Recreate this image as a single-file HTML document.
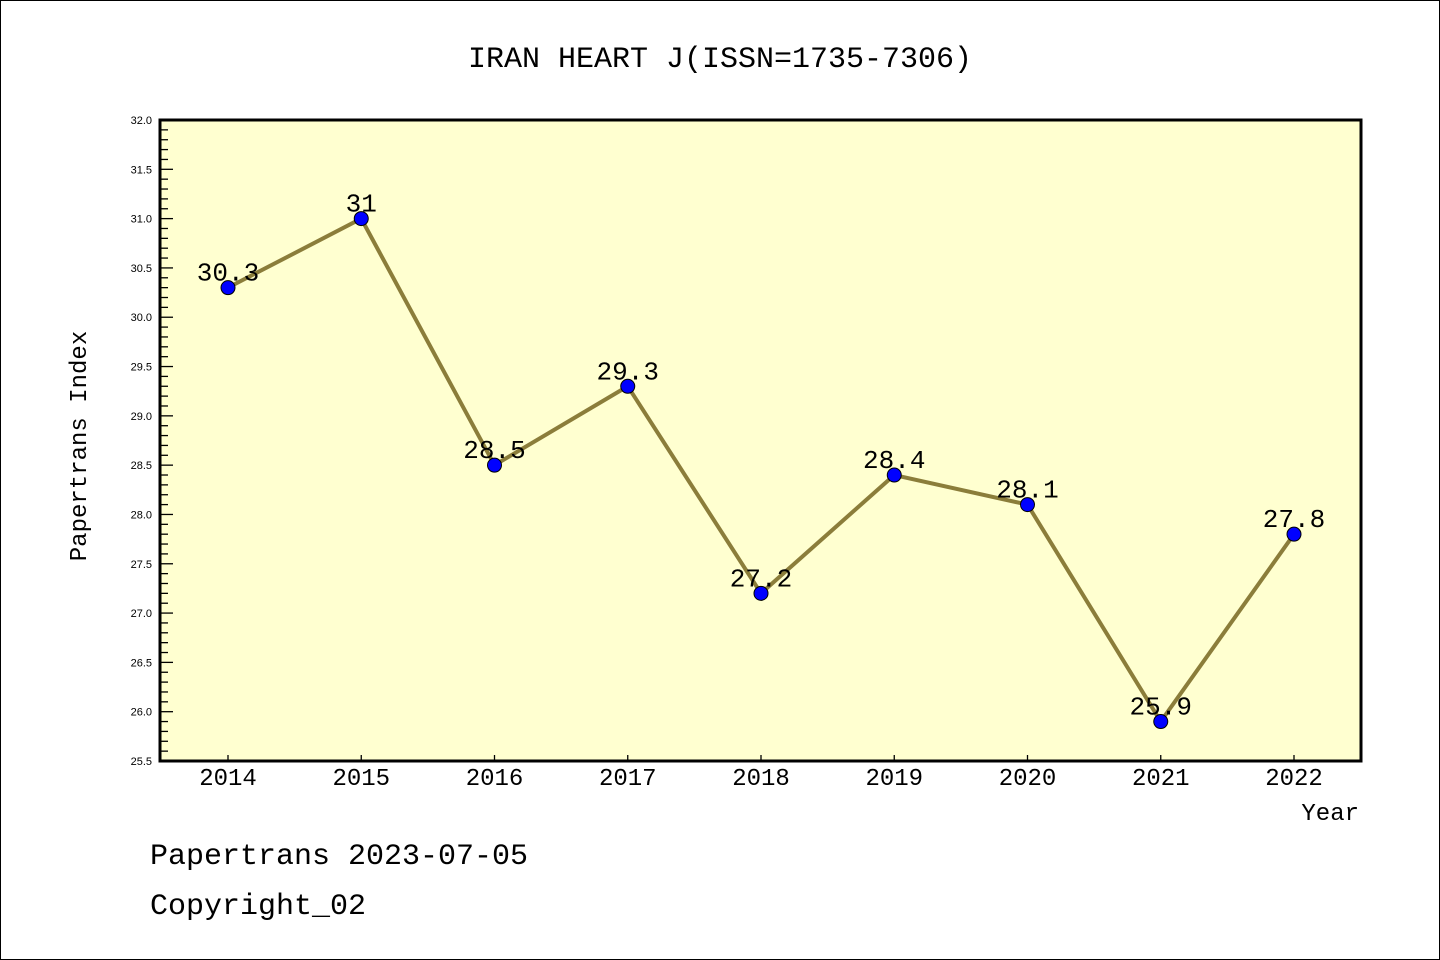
<!DOCTYPE html>
<html><head><meta charset="utf-8"><style>
body{margin:0;background:#fff}
svg{display:block;font-family:"Liberation Mono","DejaVu Sans Mono",monospace}
</style></head><body>
<svg width="1440" height="960" id="chart" xmlns="http://www.w3.org/2000/svg">
<rect x="0.5" y="0.5" width="1439" height="959" fill="#fff" stroke="#000"/>
<text x="720" y="67" font-size="30" text-anchor="middle">IRAN HEART J(ISSN=1735-7306)</text>
<rect x="160" y="120" width="1201" height="641" fill="#ffffd0"/>
<g id="yaxis"></g>
<g id="xaxis"></g>
<g id="series"></g>
<rect x="160" y="120" width="1201" height="641" fill="none" stroke="#000" stroke-width="3"/>
<text x="86" y="446" font-size="24" text-anchor="middle" transform="rotate(-90 86 446)">Papertrans Index</text>
<text x="1359" y="820" font-size="24" text-anchor="end">Year</text>
<text x="150" y="864" font-size="30">Papertrans 2023-07-05</text>
<text x="150" y="914" font-size="30">Copyright_02</text>
</svg>
<script>
const years=["2014","2015","2016","2017","2018","2019","2020","2021","2022"];
const values=[30.3,31,28.5,29.3,27.2,28.4,28.1,25.9,27.8];
const valueLabels=["30.3","31","28.5","29.3","27.2","28.4","28.1","25.9","27.8"];
const yTicks=["25.5","26.0","26.5","27.0","27.5","28.0","28.5","29.0","29.5","30.0","30.5","31.0","31.5","32.0"];
(function(){
const NS="http://www.w3.org/2000/svg";
const yMin=25.5,yMax=32,plotTop=120,plotBot=761,plotLeft=160;
const y=v=>plotBot-(v-yMin)/(yMax-yMin)*(plotBot-plotTop);
const x=i=>228+i*133.25;
function mk(t,a,p){const e=document.createElementNS(NS,t);for(const k in a)e.setAttribute(k,a[k]);p.appendChild(e);return e;}
const ya=document.getElementById('yaxis'),xa=document.getElementById('xaxis'),se=document.getElementById('series');
for(let k=0;k<=65;k++){const v=yMin+k*0.1;const major=k%5===0;
 const l=mk('line',{x1:plotLeft,x2:plotLeft+(major?13:8),y1:y(v),y2:y(v),stroke:'#000','stroke-width':1.3},ya);
 
 }
yTicks.forEach(t=>{const e=mk('text',{x:152,y:y(parseFloat(t))+4,'font-size':11,'text-anchor':'end','font-family':'Liberation Sans, sans-serif'},ya);e.textContent=t;
 
 });
years.forEach((t,i)=>{const l=mk('line',{x1:x(i),x2:x(i),y1:plotBot,y2:plotBot-6,stroke:'#000','stroke-width':1.3},xa);
 
 
 const e=mk('text',{x:x(i),y:785,'font-size':24,'text-anchor':'middle'},xa);e.textContent=t;
 
 });
const pl=mk('polyline',{points:values.map((v,i)=>x(i)+','+y(v)).join(' '),fill:'none',stroke:'#8b7d3a','stroke-width':4},se);


values.forEach((v,i)=>{const c=mk('circle',{cx:x(i),cy:y(v),r:7,fill:'#0000ff',stroke:'#000','stroke-width':1},se);
 
 
 const e=mk('text',{x:x(i),y:y(v)-7,'font-size':26,'text-anchor':'middle'},se);e.textContent=valueLabels[i];
 
 });
})();
</script>
</body></html>
